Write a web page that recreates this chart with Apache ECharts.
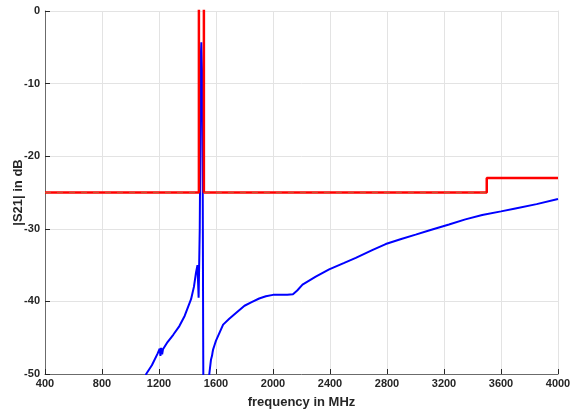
<!DOCTYPE html>
<html>
<head>
<meta charset="utf-8">
<script src="https://cdn.jsdelivr.net/npm/echarts@6/dist/echarts.min.js"></script>
<style>html,body{margin:0;padding:0;background:#fff}#c{width:570px;height:412px}</style>
</head>
<body>
<div id="c"></div>
<script>
var xTicks = [400, 800, 1200, 1600, 2000, 2400, 2800, 3200, 3600, 4000];
var yTicks = [-50, -40, -30, -20, -10, 0];

var maskFreq = [400, 1480, 1480, 1515, 1515, 3500, 3500, 4000];
var maskDb   = [-25, -25, 5, 5, -25, -25, -23, -23];

var maskDashFreq = [400, 1480, null, 1515, 3500];
var maskDashDb   = [-25, -25, null, -25, -25];

var s21Freq = [1100, 1110, 1150, 1190, 1205, 1210, 1215, 1222, 1228, 1260, 1300, 1343, 1380, 1425, 1445, 1460, 1470, 1474, 1478, 1483, 1486, 1490, 1494, 1497, 1501, 1504, 1507, 1510, 1513, 1530, 1550, 1553, 1565, 1572, 1576, 1580, 1590, 1600, 1625, 1650, 1693, 1740, 1800, 1850, 1903, 1950, 2000, 2050, 2100, 2140, 2170, 2207, 2300, 2394, 2500, 2581, 2700, 2791, 2900, 3001, 3100, 3235, 3350, 3468, 3600, 3701, 3850, 4000];
var s21Db   = [-51, -50, -48.8, -47.2, -46.5, -47.5, -46.4, -47.3, -46.6, -45.6, -44.6, -43.4, -42, -39.7, -38, -36, -35, -34.8, -39.5, -39.4, -30, -18, -6, -4.3, -4.5, -10, -25, -45, -60, -62, -55, -50, -48, -47.5, -47, -46.6, -46, -45.4, -44.3, -43.2, -42.4, -41.6, -40.6, -40.1, -39.6, -39.3, -39.1, -39.1, -39.1, -39.0, -38.5, -37.7, -36.6, -35.6, -34.7, -34.0, -32.9, -32.1, -31.4, -30.8, -30.2, -29.4, -28.7, -28.1, -27.6, -27.2, -26.6, -25.9];

function zip(a, b) { return a.map(function (v, i) { return v === null ? [null, null] : [v, b[i]]; }); }

var chart = echarts.init(document.getElementById('c'));
var lab = { fontFamily: 'Liberation Sans, Arial, sans-serif', fontWeight: 'bold', fontSize: 11, color: '#262626' };
var boxAxis = { show: true, axisLine: { show: true, lineStyle: { color: '#e3e3e3' } }, axisTick: { show: false },
                axisLabel: { show: false }, splitLine: { show: false } };
chart.setOption({
  animation: false,
  grid: { left: 45, right: 12, top: 11, bottom: 38, show: false,
          containLabel: false, outerBoundsMode: 'none' },
  xAxis: [{
    type: 'value', min: 400, max: 4000, interval: 400, position: 'bottom',
    name: 'frequency in MHz', nameLocation: 'middle', nameGap: 22, nameMoveOverlap: false,
    nameTextStyle: Object.assign({}, lab, { fontSize: 13 }),
    axisLine: { onZero: false, lineStyle: { color: '#6b6b6b' } },
    axisTick: { inside: true, length: 5, lineStyle: { color: '#262626' } },
    axisLabel: Object.assign({ margin: 4, formatter: function (v) { return String(v); } }, lab),
    splitLine: { show: true, lineStyle: { color: '#e3e3e3' } }
  }, Object.assign({ type: 'value', min: 400, max: 4000, interval: 400, position: 'top' }, boxAxis)],
  yAxis: [{
    type: 'value', min: -50, max: 0, interval: 10, position: 'left',
    name: '|S21| in dB', nameLocation: 'middle', nameGap: 20, nameMoveOverlap: false,
    nameTextStyle: Object.assign({}, lab, { fontSize: 13 }),
    axisLine: { show: true, onZero: false, lineStyle: { color: '#6b6b6b' } },
    axisTick: { show: true, inside: true, length: 5, lineStyle: { color: '#262626' } },
    axisLabel: Object.assign({ margin: 5, formatter: function (v) { return String(v); } }, lab),
    splitLine: { show: true, lineStyle: { color: '#e3e3e3' } }
  }, Object.assign({ type: 'value', min: -50, max: 0, interval: 10, position: 'right' }, boxAxis)],
  series: [
    { type: 'line', data: zip(s21Freq, s21Db), showSymbol: false, clip: true,
      lineStyle: { color: '#0000ff', width: 2 }, z: 3 },
    { type: 'line', data: zip(maskFreq, maskDb), showSymbol: false, clip: true,
      lineStyle: { color: '#ff0000', width: 2.5 }, z: 4 },
    { type: 'line', data: zip(maskDashFreq, maskDashDb), showSymbol: false, clip: true, connectNulls: false,
      lineStyle: { color: '#c8502a', width: 1, type: [6, 6] }, z: 5 }
  ]
});
</script>
</body>
</html>
